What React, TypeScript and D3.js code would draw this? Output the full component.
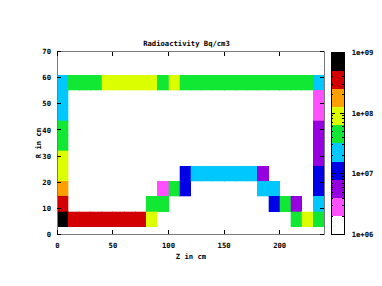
import React from "react";
import * as d3 from "d3";

// Grid centres (cm)
const zCenters = [5, 15, 25, 35, 45, 55, 65, 75, 85, 95, 105, 115, 125, 135, 145, 155, 165, 175, 185, 195, 205, 215, 225, 235];
const rCenters = [58.1, 52.3, 46.5, 40.7, 34.9, 29.1, 23.2, 17.4, 11.6, 5.8];

// Activity (Bq/cm3), rows top (r=58.1) to bottom (r=5.8); null = empty
const _ = null;
const row10 = [2.2e7, 4.5e7, 4.5e7, 4.5e7, 8.9e7, 8.9e7, 8.9e7, 8.9e7, 8.9e7, 4.5e7, 8.9e7, 4.5e7, 4.5e7, 4.5e7, 4.5e7, 4.5e7, 4.5e7, 4.5e7, 4.5e7, 4.5e7, 4.5e7, 4.5e7, 4.5e7, 2.2e7];
const row9 = [2.2e7, _, _, _, _, _, _, _, _, _, _, _, _, _, _, _, _, _, _, _, _, _, _, 2.8e6];
const row8 = [2.2e7, _, _, _, _, _, _, _, _, _, _, _, _, _, _, _, _, _, _, _, _, _, _, 2.8e6];
const row7 = [4.5e7, _, _, _, _, _, _, _, _, _, _, _, _, _, _, _, _, _, _, _, _, _, _, 5.6e6];
const row6 = [4.5e7, _, _, _, _, _, _, _, _, _, _, _, _, _, _, _, _, _, _, _, _, _, _, 5.6e6];
const row5 = [8.9e7, _, _, _, _, _, _, _, _, _, _, _, _, _, _, _, _, _, _, _, _, _, _, 5.6e6];
const row4 = [8.9e7, _, _, _, _, _, _, _, _, _, _, 1.1e7, 2.2e7, 2.2e7, 2.2e7, 2.2e7, 2.2e7, 2.2e7, 5.6e6, _, _, _, _, 1.1e7];
const row3 = [1.8e8, _, _, _, _, _, _, _, _, 2.8e6, 4.5e7, 1.1e7, _, _, _, _, _, _, 2.2e7, 2.2e7, _, _, _, 1.1e7];
const row2 = [3.5e8, _, _, _, _, _, _, _, 4.5e7, 4.5e7, _, _, _, _, _, _, _, _, _, 1.1e7, 4.5e7, 5.6e6, _, 2.2e7];
const row1 = [7.0e8, 3.5e8, 3.5e8, 3.5e8, 3.5e8, 3.5e8, 3.5e8, 3.5e8, 8.9e7, _, _, _, _, _, _, _, _, _, _, _, _, 4.5e7, 8.9e7, 4.5e7];
const activity = [row10, row9, row8, row7, row6, row5, row4, row3, row2, row1];

const xTicks = [0, 50, 100, 150, 200];
const yTicks = [0, 10, 20, 30, 40, 50, 60, 70];
const cbTicks = [1e6, 1e7, 1e8, 1e9];
const palette = ["#ffffff", "#ff50ff", "#9600e0", "#0000e6", "#00c8ff", "#10e834", "#dcff00", "#ffa000", "#d20000", "#000000"];

const FONT = "'DejaVu Sans Mono', monospace";

export default function App() {
  const W = 382, H = 286;
  const x = d3.scaleLinear().domain([0, 240]).range([57.3, 324.2]);
  const y = d3.scaleLinear().domain([0, 70]).range([234.3, 51.7]);
  const cb = d3.scaleLog().domain([1e6, 1e9]).range([234.6, 52.3]);
  const color = d3.scaleQuantize<string>().domain([6, 9]).range(palette);

  const dz = zCenters[1] - zCenters[0];
  const dr = rCenters[0] - rCenters[1];

  const cells: JSX.Element[] = [];
  activity.forEach((row, i) => {
    row.forEach((v, j) => {
      if (v == null) return;
      const z = zCenters[j], r = rCenters[i];
      const x0 = x(z - dz / 2), x1 = x(z + dz / 2);
      const y0 = y(r + dr / 2), y1 = y(r - dr / 2);
      cells.push(
        <rect key={`${i}-${j}`} x={x0} y={y0} width={x1 - x0} height={y1 - y0} fill={color(Math.log10(v))} stroke={color(Math.log10(v))} strokeWidth={0.3} />
      );
    });
  });

  const cbX0 = 331, cbX1 = 344.3;
  const bands = d3.range(10).map((k) => {
    const lo = Math.pow(10, 6 + 0.3 * k), hi = Math.pow(10, 6 + 0.3 * (k + 1));
    return { lo, hi, c: palette[k] };
  });
  const minor: number[] = [];
  [6, 7, 8].forEach((d) => {
    for (let m = 2; m <= 9; m++) minor.push(m * Math.pow(10, d));
  });

  const [px0, px1] = x.range();
  const [py0, py1] = y.range();
  const tl = 4;

  return (
    <svg width={W} height={H} style={{ position: "absolute", left: 0, top: 0, background: "#fff" }}>
      <g shapeRendering="crispEdges">{cells}</g>
      {/* border */}
      <rect x={px0} y={py1} width={px1 - px0} height={py0 - py1} fill="none" stroke="#7a7a7a" strokeWidth={1} shapeRendering="crispEdges" />
      <g stroke="#000" strokeWidth={1} shapeRendering="crispEdges">
        {xTicks.map((t) => (
          <g key={`xt${t}`}>
            <line x1={x(t)} x2={x(t)} y1={py0} y2={py0 - tl} />
            <line x1={x(t)} x2={x(t)} y1={py1} y2={py1 + tl} />
          </g>
        ))}
        {yTicks.map((t) => (
          <g key={`yt${t}`}>
            <line x1={px0} x2={px0 + tl} y1={y(t)} y2={y(t)} />
            <line x1={px1} x2={px1 - tl} y1={y(t)} y2={y(t)} />
          </g>
        ))}
      </g>
      <g fontFamily={FONT} fontSize={7.2} fontWeight="bold" fill="#000">
        {xTicks.map((t) => (
          <text key={`xl${t}`} x={x(t)} y={247.5} textAnchor="middle">{t}</text>
        ))}
        {yTicks.map((t) => (
          <text key={`yl${t}`} x={51} y={y(t) + 2.6} textAnchor="end">{t}</text>
        ))}
        <text x={186.5} y={46} textAnchor="middle">Radioactivity Bq/cm3</text>
        <text x={191} y={258.5} textAnchor="middle">Z in cm</text>
        <text transform={`translate(40.5,143) rotate(-90)`} textAnchor="middle">R in cm</text>
        {cbTicks.map((t) => (
          <text key={`cl${t}`} x={351.7} y={cb(t) + 2.6} textAnchor="start">{d3.format(".0e")(t).replace("e+", "e+0")}</text>
        ))}
      </g>
      {/* colour box */}
      <g shapeRendering="crispEdges">
        {bands.map((b, k) => (
          <rect key={`b${k}`} x={cbX0} y={cb(b.hi)} width={cbX1 - cbX0} height={cb(b.lo) - cb(b.hi)} fill={b.c} />
        ))}
        <rect x={cbX0} y={cb(1e9)} width={cbX1 - cbX0} height={cb(1e6) - cb(1e9)} fill="none" stroke="#000" strokeWidth={1} />
        <g stroke="#000" strokeWidth={1}>
          {minor.map((m, k) => (
            <g key={`m${k}`}>
              <line x1={cbX0} x2={cbX0 + 2} y1={cb(m)} y2={cb(m)} />
              <line x1={cbX1} x2={cbX1 - 2} y1={cb(m)} y2={cb(m)} />
            </g>
          ))}
          {cbTicks.map((t) => (
            <g key={`ct${t}`}>
              <line x1={cbX0} x2={cbX0 + 4} y1={cb(t)} y2={cb(t)} />
              <line x1={cbX1} x2={cbX1 - 4} y1={cb(t)} y2={cb(t)} />
            </g>
          ))}
        </g>
      </g>
    </svg>
  );
}
